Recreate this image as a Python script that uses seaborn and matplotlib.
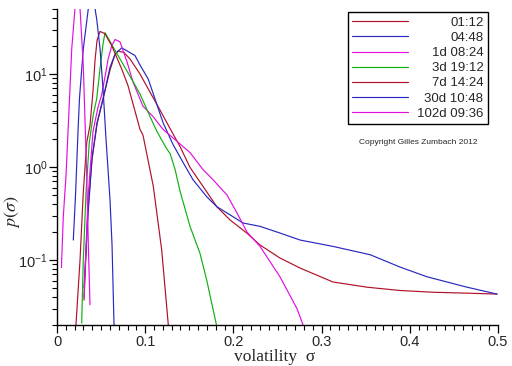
import numpy as np
import pandas as pd
import matplotlib
matplotlib.use("Agg")
import matplotlib.pyplot as plt
import matplotlib.ticker as mticker
import seaborn as sns

# time horizons, in legend order
labels = ["01:12", "04:48", "1d 08:24", "3d 19:12", "7d 14:24", "30d 10:48", "102d 09:36"]
colors = ["#b0102a", "#2828c0", "#e010e0", "#10b010", "#b0102a", "#2828c0", "#e010e0"]

# densities (sigma, p(sigma))
sig_0112 = [0.0306, 0.0351, 0.0397, 0.0454, 0.0522, 0.0601, 0.065, 0.0692, 0.076, 0.0828,
            0.0941, 0.1054, 0.1168, 0.1281, 0.1395, 0.1508, 0.1655, 0.1811, 0.1961, 0.2151,
            0.2302, 0.2528, 0.2755, 0.3129, 0.3515, 0.3889, 0.4263, 0.4649, 0.4989]
p_0112 = [0.037, 0.35, 1.2, 2.9, 5.4, 11.0, 15.5, 17.7, 17.0, 14.5,
          10.0, 6.4, 4.1, 2.6, 1.66, 0.99, 0.62, 0.375, 0.27, 0.195,
          0.145, 0.105, 0.082, 0.058, 0.051, 0.047, 0.045, 0.044, 0.043]

sig_0448 = [0.0306, 0.0351, 0.0397, 0.0454, 0.0522, 0.0601, 0.066, 0.0734, 0.0884, 0.0941,
            0.1035, 0.1111, 0.1202, 0.1315, 0.1429, 0.1542, 0.1697, 0.1811, 0.1961, 0.2109,
            0.2302, 0.2528, 0.2755, 0.3129, 0.355, 0.3889, 0.4195, 0.4649, 0.4989]
p_0448 = [0.05, 0.3, 1.25, 3.0, 5.4, 11.8, 16.5, 19.1, 15.8, 12.5,
          8.8, 5.4, 3.0, 1.75, 1.12, 0.73, 0.48, 0.375, 0.306, 0.25,
          0.23, 0.195, 0.164, 0.14, 0.114, 0.084, 0.066, 0.051, 0.043]

sig_1d = [0.0306, 0.0351, 0.0408, 0.0465, 0.0507, 0.055, 0.058, 0.062, 0.0658, 0.0714,
          0.0794, 0.0862, 0.0975, 0.1088, 0.1202, 0.136, 0.1508, 0.1655, 0.1769, 0.1927,
          0.2041, 0.2154, 0.2302, 0.2528, 0.2721, 0.279, 0.285]
p_1d = [0.04, 0.45, 2.4, 4.4, 6.0, 10.0, 14.5, 20.0, 23.5, 22.2,
        13.5, 8.2, 4.5, 3.5, 2.54, 1.89, 1.43, 0.94, 0.73, 0.50,
        0.32, 0.2, 0.14, 0.066, 0.030, 0.02, 0.014]

sig_3d = [0.028, 0.0298, 0.0329, 0.0366, 0.041, 0.045, 0.0488, 0.0522, 0.0544, 0.06,
          0.0692, 0.0847, 0.0941, 0.1054, 0.1134, 0.1247, 0.1281, 0.1338, 0.1395, 0.1508,
          0.1621, 0.1697, 0.1803, 0.183]
p_3d = [0.021, 0.1, 0.53, 1.84, 3.6, 5.4, 11.5, 21.0, 27.8, 22.5,
        15.8, 8.8, 6.1, 3.5, 2.4, 1.55, 1.4, 0.95, 0.55, 0.23,
        0.118, 0.061, 0.021, 0.016]

sig_7d = [0.0215, 0.0261, 0.0298, 0.0337, 0.0374, 0.0408, 0.0431, 0.0454, 0.0488, 0.0544,
          0.062, 0.0734, 0.0805, 0.0847, 0.0941, 0.0975, 0.1092, 0.1187, 0.1262, 0.128]
p_7d = [0.02, 0.1, 0.53, 1.84, 2.8, 6.5, 14.0, 23.0, 28.7, 27.1,
        20.2, 11.3, 7.5, 5.37, 2.54, 2.2, 0.62, 0.128, 0.02, 0.015]

sig_30d = [0.0185, 0.021, 0.0238, 0.0255, 0.0298, 0.0355, 0.039, 0.0431, 0.045, 0.0488,
           0.0522, 0.0556, 0.0601, 0.0624, 0.0646, 0.0655]
p_30d = [0.164, 0.5, 2.4, 5.5, 18.6, 50.5, 56.0, 50.5, 39.0, 18.6,
         6.9, 1.98, 0.445, 0.145, 0.021, 0.012]

sig_102d = [0.005, 0.0071, 0.0102, 0.0128, 0.0167, 0.0204, 0.0232, 0.0261, 0.0298, 0.0317,
            0.0337, 0.0355, 0.0374]
p_102d = [0.083, 0.29, 0.80, 2.76, 18.6, 50.5, 85.0, 50.5, 12.5, 3.3,
          0.8, 0.15, 0.033]

sigmas = [sig_0112, sig_0448, sig_1d, sig_3d, sig_7d, sig_30d, sig_102d]
probs = [p_0112, p_0448, p_1d, p_3d, p_7d, p_30d, p_102d]

frames = []
for lab, xs, ys in zip(labels, sigmas, probs):
    frames.append(pd.DataFrame({"sigma": xs, "p": ys, "horizon": lab}))
df = pd.concat(frames, ignore_index=True)

sns.set_style("ticks")
plt.rcParams['font.family'] = ['Liberation Sans', 'DejaVu Sans']
plt.rcParams['mathtext.fontset'] = 'stix'

fig = plt.figure(figsize=(5.12, 3.66), dpi=100)
ax = fig.add_axes([57 / 512, 1 - 325 / 366, 441 / 512, 316 / 366])

sns.lineplot(data=df, x="sigma", y="p", hue="horizon", hue_order=labels,
             palette=colors, estimator=None, legend=False, linewidth=0.85, ax=ax)

ax.set_yscale("log")
ax.set_xlim(0, 0.5)
ax.set_ylim(0.02, 50)

ax.xaxis.set_major_locator(mticker.MultipleLocator(0.1))
ax.xaxis.set_minor_locator(mticker.MultipleLocator(0.01))
ax.xaxis.set_major_formatter(mticker.FuncFormatter(lambda v, _: "0" if abs(v) < 1e-9 else f"{v:g}"))

ax.tick_params(which="major", direction="out", length=6, width=0.9, color="black",
               labelsize=10.5, pad=1)
ax.tick_params(which="minor", direction="out", length=3.5, width=0.8, color="black")
sns.despine(ax=ax)
for s in ["left", "bottom"]:
    ax.spines[s].set_color("black")
    ax.spines[s].set_linewidth(1.0)

ax.set_xlabel("volatility  σ", fontsize=12.5, family="Liberation Serif")
ax.xaxis.set_label_coords(0.494, -0.076)
ax.set_ylabel(r"$p(\sigma)$", fontsize=13)
ax.yaxis.set_label_coords(-0.08, 0.36)

leg = ax.legend(ax.get_lines()[:7], labels, loc="upper right",
                bbox_to_anchor=(488 / 512, 1 - 12 / 366), bbox_transform=fig.transFigure,
                borderaxespad=0, frameon=True, fancybox=False, edgecolor="black",
                framealpha=1, fontsize=9.5, handlelength=4.2, handletextpad=1.0,
                labelspacing=0.22, borderpad=0.35)
leg.get_frame().set_linewidth(1.0)

# right-align the labels inside the legend box
try:
    for col in leg._legend_handle_box.get_children():
        for item in col.get_children():
            item.mode = "expand"
            item.width = 131
except AttributeError:
    pass

fig.text(418 / 512, 1 - 142 / 366, "Copyright Gilles Zumbach 2012", fontsize=6,
         ha="center", va="center")

fig.savefig("out.png", dpi=100)
